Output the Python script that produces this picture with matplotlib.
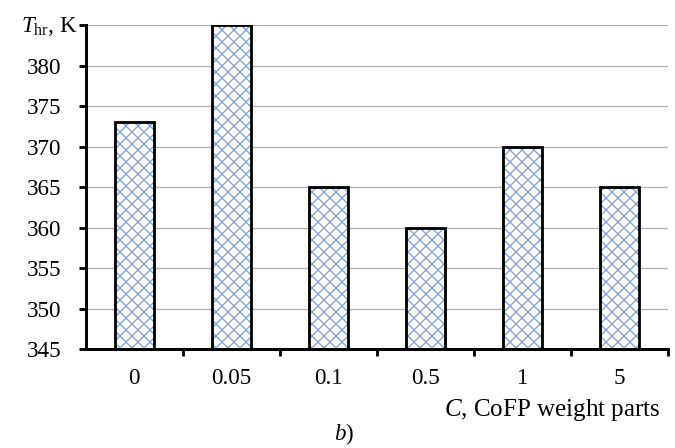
import matplotlib
matplotlib.use('Agg')
import matplotlib.pyplot as plt

categories = ['0', '0.05', '0.1', '0.5', '1', '5']
values = [373, 385, 365, 360, 370, 365]
yticks = [345, 350, 355, 360, 365, 370, 375, 380, 385]
ytick_labels = ['345', '350', '355', '360', '365', '370', '375', '380', '']

plt.rcParams['font.family'] = 'Liberation Serif'
plt.rcParams['mathtext.fontset'] = 'custom'
plt.rcParams['mathtext.rm'] = 'Liberation Serif'
plt.rcParams['mathtext.it'] = 'Liberation Serif:italic'
plt.rcParams['hatch.linewidth'] = 1.3

# dpi 72 so that 1 pt = 1 px
fig = plt.figure(figsize=(675 / 72, 448 / 72), dpi=72)
ax = fig.add_axes([0.127, 0.221, 0.863, 0.723])

x = list(range(len(categories)))
base = 345
heights = [v - base for v in values]
# hatch in blue, outline in black
ax.bar(x, heights, bottom=base, width=0.4, color='white', edgecolor='#7f9fd3',
       hatch='xx', linewidth=0, zorder=2)
ax.bar(x, heights, bottom=base, width=0.4, fill=False, edgecolor='black',
       linewidth=2.8, zorder=3)

ax.set_ylim(345, 385)
ax.set_xlim(-0.5, len(categories) - 0.5)
ax.set_yticks(yticks)
ax.set_yticklabels(ytick_labels, fontsize=23)
ax.set_xticks(x)
ax.set_xticklabels(categories, fontsize=23)
ax.tick_params(axis='x', length=0, pad=19)
ax.set_xticks([i + 0.5 for i in x], minor=True)
ax.tick_params(axis='x', which='minor', length=7, width=2.8, direction='out')
ax.tick_params(axis='y', length=7, width=2.8, direction='out', pad=17)

ax.grid(axis='y', color='#b0b0b0', linewidth=1.3, zorder=0)
ax.set_axisbelow(True)
for s in ['top', 'right']:
    ax.spines[s].set_visible(False)
ax.spines['left'].set_linewidth(3)
ax.spines['bottom'].set_linewidth(3)

fig.text(78 / 675, 1 - 27 / 448, '$T_{\\rm hr}$, K', ha='right', va='center', fontsize=23)
fig.text(0.978, 0.085, '$C$, CoFP weight parts', ha='right', va='center', fontsize=25)
fig.text(0.51, 0.032, '$b$)', ha='center', va='center', fontsize=23)

plt.savefig('out.png', dpi=72)
